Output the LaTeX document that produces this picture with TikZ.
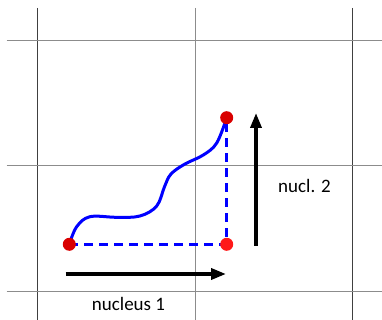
\documentclass[tikz,border=0pt]{standalone}
\usepackage{fontspec}
\setmainfont{Carlito}
\usetikzlibrary{arrows.meta}
\begin{document}
\begin{tikzpicture}[x=1pt,y=1pt,
  gridouter/.style={draw=black!75,line width=0.9pt},
  gridinner/.style={draw=black!45,line width=0.9pt},
  dot/.style={circle,fill=#1,inner sep=0pt,minimum size=13pt},
  dashedblue/.style={draw=blue,line width=3pt,dash pattern=on 9pt off 6pt},
  curveblue/.style={draw=blue,line width=3pt,line cap=round},
  bigarrow/.style={draw=black,line width=3.5pt,-{Triangle[length=15pt,width=11pt]}},
  lbl/.style={font=\fontsize{19}{22}\selectfont,inner sep=0pt}]
\useasboundingbox (0,0) rectangle (382,320);
% grid
\coordinate (v1t) at (37.5,312); \coordinate (v1b) at (37.5,0);
\coordinate (v2t) at (195,312); \coordinate (v2b) at (195,0);
\coordinate (v3t) at (352,312); \coordinate (v3b) at (352,0);
\coordinate (h1l) at (6.5,280); \coordinate (h1r) at (382,280);
\coordinate (h2l) at (6.5,154.5); \coordinate (h2r) at (382,154.5);
\coordinate (h3l) at (6.5,28.5); \coordinate (h3r) at (382,28.5);
\draw[gridouter] (v1t) -- (v1b);
\draw[gridinner] (v2t) -- (v2b);
\draw[gridouter] (v3t) -- (v3b);
\draw[gridinner] (h1l) -- (h1r);
\draw[gridinner] (h2l) -- (h2r);
\draw[gridinner] (h3l) -- (h3r);
% points
\coordinate (a) at (69.3,75.7);
\coordinate (b) at (226.7,75.7);
\coordinate (c) at (226.7,202.3);
\draw[dashedblue] (a) -- (b) -- (c);
\draw[curveblue] plot[smooth,tension=0.6] coordinates {(a) (76.7,93.3) (90,103.3) (116.7,102.7) (140,104) (156.7,114) (164.5,133.3) (171,146) (185,156) (203.3,165) (216.7,177) (c)};
\node[dot=red!85!black] (na) at (a) {};
\node[dot=red!90!white] (nb) at (b) {};
\node[dot=red!85!black] (nc) at (c) {};
% arrows
\coordinate (h1) at (65.5,46); \coordinate (h2) at (226,46);
\coordinate (u1) at (256,74); \coordinate (u2) at (256,207);
\draw[bigarrow] (h1) -- (h2);
\draw[bigarrow] (u1) -- (u2);
\node[lbl] (n1) at (128.5,16) {nucleus 1};
\node[lbl] (n2) at (304.5,134.5) {nucl. 2};
\end{tikzpicture}
\end{document}
